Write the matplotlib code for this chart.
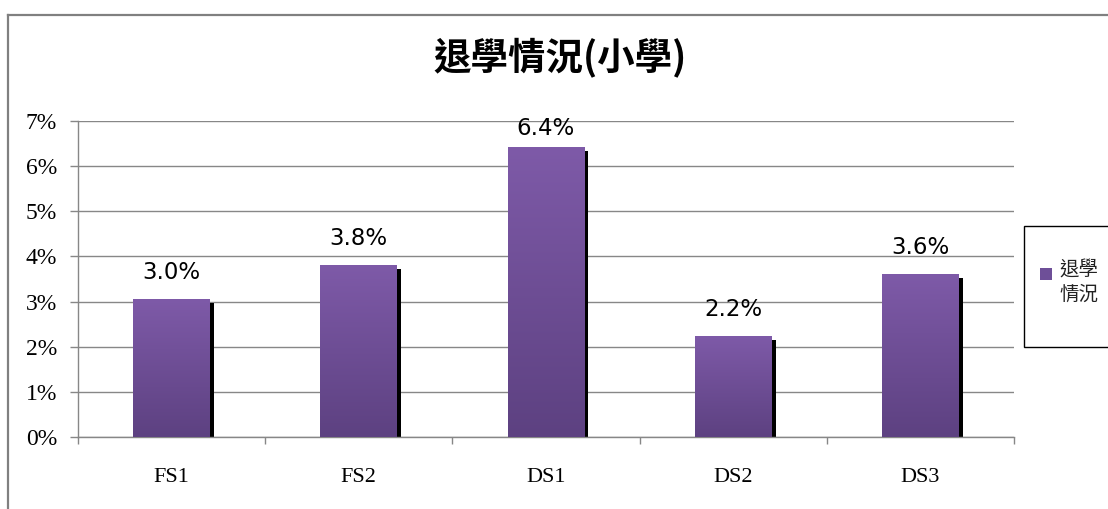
import matplotlib
matplotlib.use("Agg")
import matplotlib.pyplot as plt
import numpy as np
from matplotlib.colors import LinearSegmentedColormap
from matplotlib.transforms import ScaledTranslation
from matplotlib.patches import Rectangle
from matplotlib.lines import Line2D

# ---- data ----
categories = ["FS1", "FS2", "DS1", "DS2", "DS3"]
values = [3.04, 3.79, 6.41, 2.22, 3.59]
labels = ["3.0%", "3.8%", "6.4%", "2.2%", "3.6%"]
yticks = [0, 1, 2, 3, 4, 5, 6, 7]
title = "退學情況(小學)"
series_name = "退學\n情況"

CJK = ["Noto Sans CJK TC", "DejaVu Sans"]
SERIF = ["Liberation Serif", "DejaVu Serif"]
plt.rcParams["font.family"] = SERIF
plt.rcParams["ytick.labelsize"] = 17
plt.rcParams["xtick.labelsize"] = 16

W, H = 1108, 509
DPI = 100
fig = plt.figure(figsize=(W / DPI, H / DPI), dpi=DPI)
fig.patch.set_facecolor("white")

def fx(px):
    return px / W

def fy(py):
    return 1 - py / H

# axes placement (pixel measurements)
left, right, top, bottom = 78, 1014, 121, 437
ax = fig.add_axes([fx(left), fy(bottom), fx(right - left), (bottom - top) / H])

gray = "#878787"

x = np.arange(len(categories))
width = 0.41

# shadow bars
shadow = ax.bar(x, values, width, color="black", zorder=2, linewidth=0)
off = ScaledTranslation(4 / DPI, -3 / DPI, fig.dpi_scale_trans)
for p in shadow:
    p.set_transform(ax.transData + off)

# main bars (gradient)
bars = ax.bar(x, values, width, color="#7657a0", zorder=3, linewidth=0)
cmap = LinearSegmentedColormap.from_list("g", ["#5d4181", "#7e5aa8"])
grad = np.linspace(0, 1, 256).reshape(-1, 1)
for b in bars:
    x0, y0 = b.get_x(), b.get_y()
    ax.imshow(grad, extent=(x0, x0 + b.get_width(), y0, y0 + b.get_height()),
              origin="lower", aspect="auto", cmap=cmap, zorder=4,
              interpolation="bilinear")

# data labels
for xi, v, lab in zip(x, values, labels):
    ly = min(v + 0.6, 6.84)
    ax.text(xi, ly, lab, ha="center", va="center", fontsize=16.5,
            family=["DejaVu Sans"], color="black", zorder=5)

ax.set_xlim(-0.5, len(categories) - 0.5)
ax.set_ylim(0, 7)

# y axis
ax.yaxis.grid(True, color=gray, linewidth=1.0, zorder=0)
ax.set_axisbelow(True)
ax.tick_params(axis="y", length=6, color=gray, width=1, pad=9)
ax.set_yticks(yticks)
ax.set_yticklabels([f"{t}%" for t in yticks])

# x axis
ax.tick_params(axis="x", which="major", length=5, color=gray, width=1)
ax.tick_params(axis="x", which="minor", length=0, pad=22)
ax.set_xticks(np.arange(-0.5, len(categories), 1.0))
ax.set_xticklabels([])
ax.set_xticks(x, minor=True)
ax.set_xticklabels(categories, minor=True)

for s in ["top", "right"]:
    ax.spines[s].set_visible(False)
for s in ["left", "bottom"]:
    ax.spines[s].set_color(gray)
    ax.spines[s].set_linewidth(1)

# title
fig.text(fx(560), fy(57), title, ha="center", va="center", fontsize=27,
         fontweight="bold", family=CJK, color="black")

# outer chart frame
fig.add_artist(Line2D([fx(7.5), fx(7.5)], [fy(14.5), 0], transform=fig.transFigure,
                      color="#808080", linewidth=1.6))
fig.add_artist(Line2D([fx(7.5), fx(1107)], [fy(14.5), fy(14.5)], transform=fig.transFigure,
                      color="#808080", linewidth=1.6))

# legend (manual)
fig.add_artist(Rectangle((fx(1024), fy(347)), fx(1120 - 1024), (347 - 226) / H,
                         transform=fig.transFigure, facecolor="white",
                         edgecolor="black", linewidth=1.0, clip_on=False))
fig.add_artist(Rectangle((fx(1040), fy(280)), fx(12), 12 / H,
                         transform=fig.transFigure, facecolor="#6e4f98",
                         edgecolor="none"))
fig.text(fx(1059), fy(260), series_name, ha="left", va="top", fontsize=14,
         family=CJK, color="#222222", linespacing=1.2)

fig.savefig("out.png", dpi=DPI)
